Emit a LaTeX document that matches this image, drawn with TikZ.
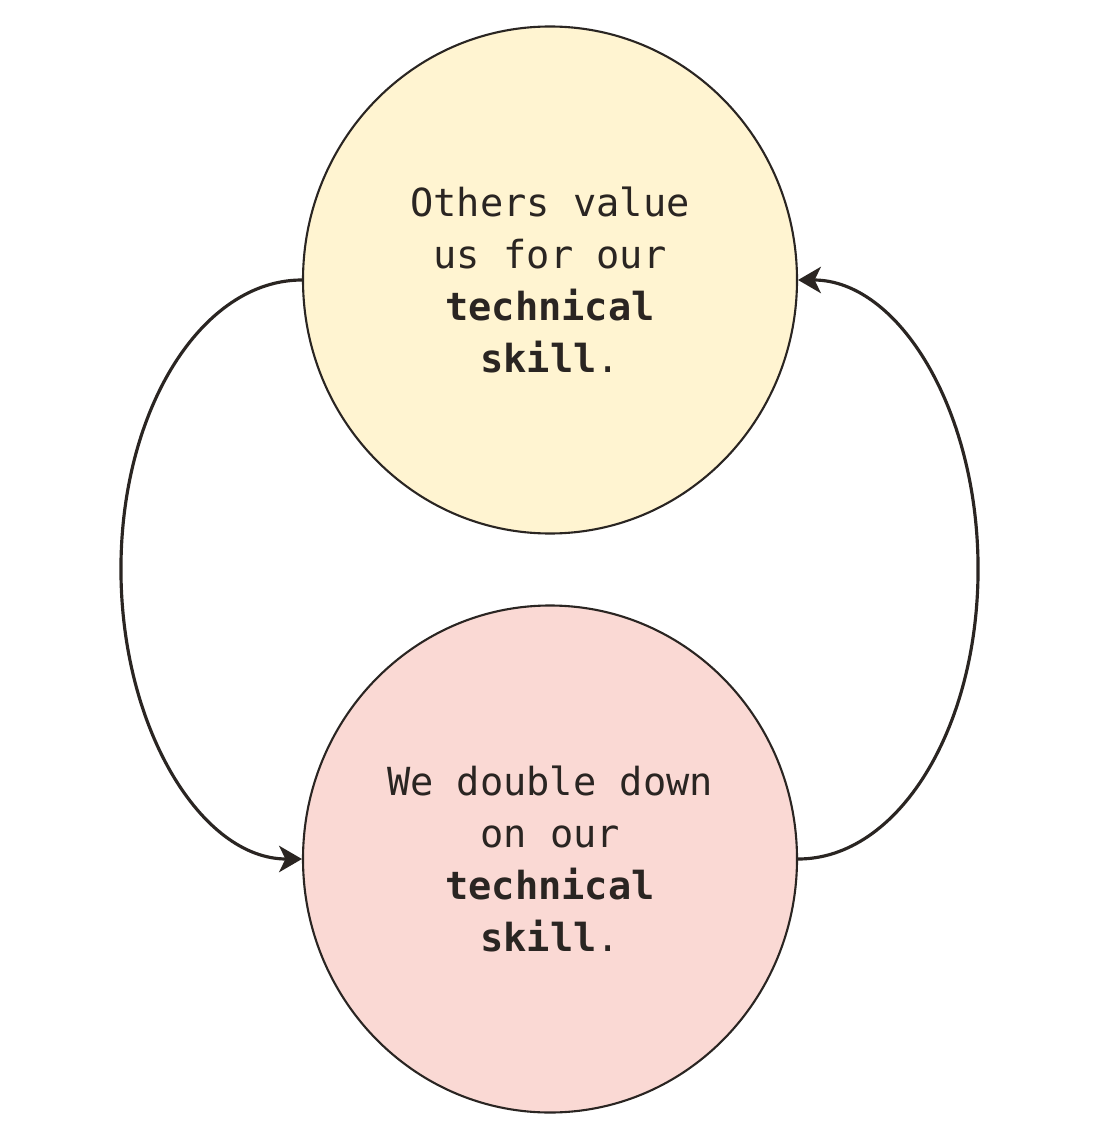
\documentclass[tikz,border=0pt]{standalone}
\usepackage{fontspec}
\setmonofont{DejaVu Sans Mono}
\usepackage{tikz}
\usetikzlibrary{shapes.geometric,arrows.meta}
\usepackage{xcolor}
\definecolor{ink}{HTML}{2A2522}
\definecolor{cream}{HTML}{FFF4D1}
\definecolor{blush}{HTML}{FAD9D4}

\begin{document}
\begin{tikzpicture}[x=0.1mm,y=-0.1mm,
        bubble/.style={ellipse, draw=ink, line width=0.6pt, inner sep=0pt,
            minimum width=49.4mm, minimum height=50.7mm, align=center, text=ink,
            font=\ttfamily\fontsize{11pt}{14.8pt}\selectfont},
        loop/.style={draw=ink, line width=0.9pt, -{Stealth[length=6.5pt,width=7.5pt,inset=1.8pt]}}]
        \useasboundingbox (0,0) rectangle (1092,1134);
        % circulo de arriba
        \node[bubble, fill=cream] (top) at (550,280) {Others value\\us for our\\\textbf{technical}\\\textbf{skill}.};
        % circulo de abajo
        \node[bubble, fill=blush] (bottom) at (550,859) {We double down\\on our\\\textbf{technical}\\\textbf{skill}.};
        % flecha izquierda, de arriba hacia abajo
        \draw[loop] (top.west) .. controls +(-100,0) and +(0,-160) .. ++(-181,289)
            .. controls +(0,160) and +(-100,0) .. (bottom.west);
        % flecha derecha, de abajo hacia arriba
        \draw[loop] (bottom.east) .. controls +(100,0) and +(0,160) .. ++(180,-290)
            .. controls +(0,-160) and +(100,0) .. (top.east);
\end{tikzpicture}
\end{document}
